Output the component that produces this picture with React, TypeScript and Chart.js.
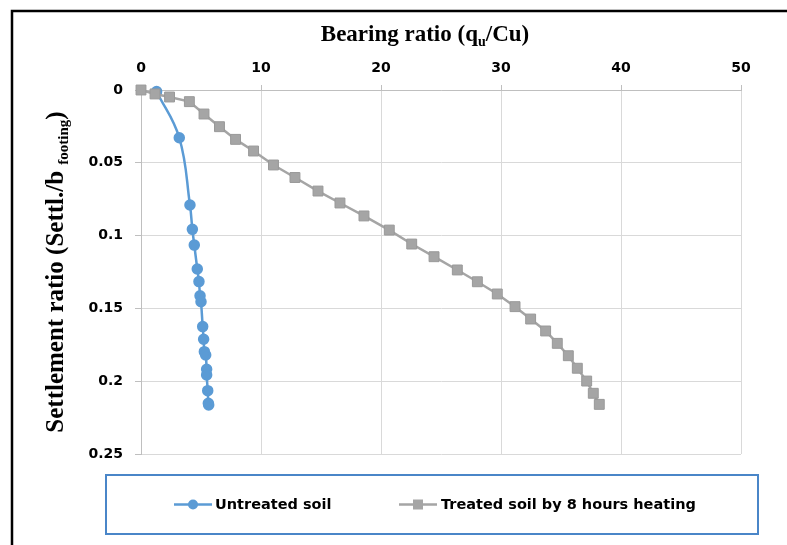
import { useEffect, useRef } from "react";
import { Chart, registerables } from "chart.js";

Chart.register(...registerables);

// ---- data ----
const untreatedX = [1.3, 3.19, 4.08, 4.28, 4.44, 4.69, 4.83, 4.92, 5.0, 5.14, 5.22, 5.28, 5.39, 5.47, 5.47, 5.56, 5.61, 5.64];
const untreatedY = [0.001, 0.0328, 0.079, 0.0957, 0.1065, 0.1229, 0.1316, 0.1413, 0.1454, 0.1625, 0.1712, 0.1797, 0.182, 0.1918, 0.1957, 0.2065, 0.2152, 0.2163];

const treatedX = [0, 1.17, 2.38, 4.03, 5.25, 6.54, 7.88, 9.38, 11.04, 12.83, 14.75, 16.58, 18.58, 20.69, 22.56, 24.42, 26.36, 28.03, 29.69, 31.17, 32.47, 33.72, 34.69, 35.61, 36.36, 37.14, 37.69, 38.19];
const treatedY = [0, 0.0027, 0.0048, 0.008, 0.0165, 0.0252, 0.0339, 0.0419, 0.0515, 0.0601, 0.0694, 0.0776, 0.0865, 0.0962, 0.1058, 0.1145, 0.1236, 0.1317, 0.1401, 0.1488, 0.1573, 0.1655, 0.174, 0.1825, 0.1911, 0.1999, 0.2083, 0.2159];

const seriesLabels = ["Untreated soil", "Treated soil by 8 hours heating"];
const xTickValues = [0, 10, 20, 30, 40, 50];
const yTickValues = [0, 0.05, 0.1, 0.15, 0.2, 0.25];
const yTickLabels = ["0", "0.05", "0.1", "0.15", "0.2", "0.25"];

const xTitleParts = ["Bearing ratio (q", "u", "/Cu)"];
const yTitleParts = ["Settlement ratio (Settl./b ", "footing", ")"];

const BLUE = "#5b9bd5";
const GRAY = "#a5a5a5";
const TICK_FONT = "DejaVu Sans";
const SERIF = "Liberation Serif";

function drawSubText(ctx: CanvasRenderingContext2D, parts: string[], size: number, subSize: number, cx: number, cy: number, sx: number) {
  ctx.save();
  ctx.translate(cx, cy);
  ctx.scale(sx, 1);
  ctx.textBaseline = "alphabetic";
  ctx.textAlign = "left";
  ctx.fillStyle = "#000";
  const mainFont = `bold ${size}px "${SERIF}"`;
  const subFont = `bold ${subSize}px "${SERIF}"`;
  ctx.font = mainFont;
  const w0 = ctx.measureText(parts[0]).width;
  const w2 = ctx.measureText(parts[2]).width;
  ctx.font = subFont;
  const w1 = ctx.measureText(parts[1]).width;
  const total = w0 + w1 + w2;
  let x = -total / 2;
  const base = size * 0.35;
  ctx.font = mainFont;
  ctx.fillText(parts[0], x, base);
  x += w0;
  ctx.font = subFont;
  ctx.fillText(parts[1], x, base + size * 0.22);
  x += w1;
  ctx.font = mainFont;
  ctx.fillText(parts[2], x, base);
  ctx.restore();
}

const decorPlugin = {
  id: "decor",
  afterDraw(chart: any) {
    const ctx: CanvasRenderingContext2D = chart.ctx;
    // outer frame
    ctx.save();
    ctx.strokeStyle = "#000";
    ctx.lineWidth = 2.5;
    ctx.beginPath();
    ctx.moveTo(12, 560);
    ctx.lineTo(12, 11);
    ctx.lineTo(800, 11);
    ctx.stroke();
    ctx.restore();

    // x title
    drawSubText(ctx, xTitleParts, 23, 14, 425, 33, 1.0);

    // y title (rotated)
    ctx.save();
    ctx.translate(54, 272);
    ctx.rotate(-Math.PI / 2);
    drawSubText(ctx, yTitleParts, 25, 15, 0, 0, 1.0);
    ctx.restore();

    // legend
    const L = 106, T = 475, R = 758, B = 534;
    ctx.save();
    ctx.strokeStyle = "#4a86c8";
    ctx.lineWidth = 2;
    ctx.strokeRect(L, T, R - L, B - T);
    const cy = (T + B) / 2;
    const ds = chart.data.datasets;
    const items = [
      { x0: 174, x1: 212, ds: ds[0], tx: 215 },
      { x0: 399, x1: 437, ds: ds[1], tx: 441 },
    ];
    ctx.font = `bold 14.5px "${TICK_FONT}"`;
    ctx.textBaseline = "middle";
    ctx.textAlign = "left";
    items.forEach((it, i) => {
      ctx.strokeStyle = it.ds.borderColor;
      ctx.lineWidth = 2.5;
      ctx.beginPath();
      ctx.moveTo(it.x0, cy);
      ctx.lineTo(it.x1, cy);
      ctx.stroke();
      const mx = (it.x0 + it.x1) / 2;
      ctx.fillStyle = it.ds.pointBackgroundColor;
      if (i === 0) {
        ctx.beginPath();
        ctx.arc(mx, cy, 5, 0, Math.PI * 2);
        ctx.fill();
      } else {
        ctx.fillRect(mx - 5, cy - 5, 10, 10);
      }
      ctx.fillStyle = "#000";
      ctx.fillText(it.ds.label, it.tx, cy + 1);
    });
    ctx.restore();
  },
};

export default function App() {
  const ref = useRef<HTMLCanvasElement | null>(null);
  useEffect(() => {
    if (!ref.current) return;
    const chart = new Chart(ref.current, {
      type: "line",
      data: {
        datasets: [
          {
            label: seriesLabels[0],
            data: untreatedX.map((x, i) => ({ x, y: untreatedY[i] })),
            borderColor: BLUE,
            backgroundColor: BLUE,
            pointBackgroundColor: BLUE,
            pointBorderColor: BLUE,
            pointStyle: "circle",
            pointRadius: 4.5,
            borderWidth: 2.5,
            tension: 0.4,
            clip: false,
            order: 1,
          } as any,
          {
            label: seriesLabels[1],
            data: treatedX.map((x, i) => ({ x, y: treatedY[i] })),
            borderColor: GRAY,
            backgroundColor: GRAY,
            pointBackgroundColor: GRAY,
            pointBorderColor: "#999999",
            pointBorderWidth: 1,
            pointStyle: "rect",
            pointRadius: 7,
            borderWidth: 2.5,
            tension: 0,
            clip: false,
            order: 0,
          } as any,
        ],
      },
      options: {
        animation: false,
        responsive: false,
        devicePixelRatio: 1,
        layout: { padding: { left: 0, top: 0, right: 46, bottom: 91 } },
        plugins: { legend: { display: false }, tooltip: { enabled: false } },
        scales: {
          x: {
            type: "linear",
            position: "top",
            min: 0,
            max: 50,
            afterBuildTicks: (s: any) => {
              s.ticks = xTickValues.map((v) => ({ value: v }));
            },
            afterFit: (s: any) => {
              s.height = 90;
            },
            ticks: {
              color: "#000",
              font: { family: TICK_FONT, size: 14, weight: "bold" },
              padding: 8,
              maxRotation: 0,
            },
            grid: { color: "#d9d9d9", tickColor: "#bfbfbf", tickLength: 5, lineWidth: 1 },
            border: { color: "#bfbfbf" },
          },
          y: {
            type: "linear",
            reverse: true,
            min: 0,
            max: 0.25,
            afterBuildTicks: (s: any) => {
              s.ticks = yTickValues.map((v) => ({ value: v }));
            },
            afterFit: (s: any) => {
              s.width = 141;
            },
            ticks: {
              color: "#000",
              font: { family: TICK_FONT, size: 14, weight: "bold" },
              padding: 12,
              callback: (v: any) => {
                const idx = yTickValues.findIndex((t) => Math.abs(t - Number(v)) < 1e-9);
                return idx >= 0 ? yTickLabels[idx] : "";
              },
            },
            grid: { color: "#d9d9d9", tickColor: "#bfbfbf", tickLength: 6, lineWidth: 1 },
            border: { color: "#bfbfbf" },
          },
        },
      },
      plugins: [decorPlugin],
    } as any);
    return () => chart.destroy();
  }, []);
  return (
    <canvas
      ref={ref}
      width={787}
      height={545}
      style={{ position: "fixed", left: 0, top: 0, width: 787, height: 545, background: "#fff" }}
    />
  );
}
